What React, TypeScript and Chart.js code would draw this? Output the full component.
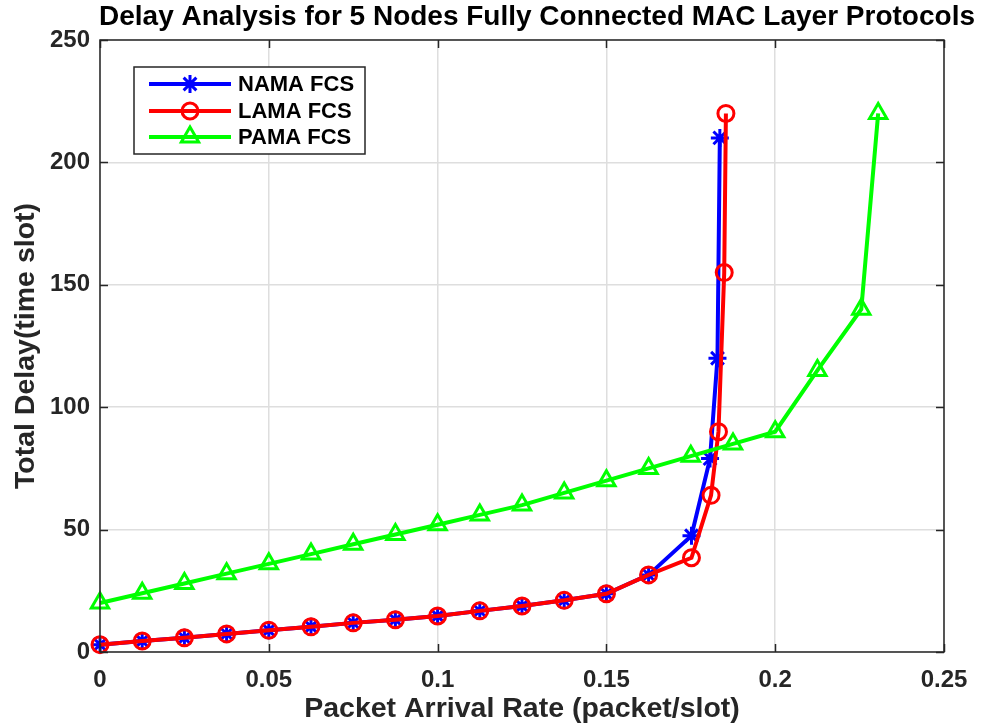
import React, { useEffect, useRef } from 'react';
import { Chart, registerables } from 'chart.js';

Chart.register(...registerables);

const chartTitle = 'Delay Analysis for 5 Nodes Fully Connected MAC Layer Protocols';
const xAxisTitle = 'Packet Arrival Rate (packet/slot)';
const yAxisTitle = 'Total Delay(time slot)';
const seriesNames = ['NAMA FCS', 'LAMA FCS', 'PAMA FCS'];

const xTickLabels = ['0', '0.05', '0.1', '0.15', '0.2', '0.25'];
const yTickLabels = ['0', '50', '100', '150', '200', '250'];

const namaRate = [0, 0.0125, 0.025, 0.0375, 0.05, 0.0625, 0.075, 0.0875, 0.1, 0.1125, 0.125, 0.1375, 0.15, 0.1625, 0.1752, 0.1807, 0.1829, 0.1836];
const namaDelay = [3, 4.5, 5.8, 7.4, 8.9, 10.3, 11.9, 13.2, 14.7, 16.8, 18.8, 21.1, 23.8, 31.5, 47.5, 79, 120, 210];

const lamaRate = [0, 0.0125, 0.025, 0.0375, 0.05, 0.0625, 0.075, 0.0875, 0.1, 0.1125, 0.125, 0.1375, 0.15, 0.1625, 0.1752, 0.181, 0.1832, 0.1849, 0.1854];
const lamaDelay = [3, 4.5, 5.8, 7.4, 8.9, 10.3, 11.9, 13.2, 14.7, 16.8, 18.8, 21.1, 23.8, 31.5, 38.5, 64, 90, 155, 220];

const pamaRate = [0, 0.0125, 0.025, 0.0375, 0.05, 0.0625, 0.075, 0.0875, 0.1, 0.1125, 0.125, 0.1375, 0.15, 0.1625, 0.175, 0.1875, 0.2, 0.2125, 0.2255, 0.2305];
const pamaDelay = [20, 24, 28, 32, 36, 40, 44, 48, 52, 56, 60, 65, 70, 75, 80, 85, 90, 115, 140, 220];

const toPoints = (xs: number[], ys: number[]) => xs.map((x, i) => ({ x, y: ys[i] }));

const AXIS_COLOR = '#262626';
const FONT = 'Liberation Sans, Arial, Helvetica, sans-serif';

function drawMarker(ctx: CanvasRenderingContext2D, style: string, r: number, x: number, y: number) {
  ctx.beginPath();
  if (style === 'circle') {
    ctx.arc(x, y, r, 0, Math.PI * 2);
  } else if (style === 'triangle') {
    for (let k = 0; k < 3; k++) {
      const a = (k * 2 * Math.PI) / 3;
      const px = x + Math.sin(a) * r;
      const py = y - Math.cos(a) * r;
      if (k === 0) ctx.moveTo(px, py);
      else ctx.lineTo(px, py);
    }
    ctx.closePath();
  } else if (style === 'star') {
    for (let k = 0; k < 4; k++) {
      const a = (k * Math.PI) / 4;
      ctx.moveTo(x - Math.cos(a) * r, y - Math.sin(a) * r);
      ctx.lineTo(x + Math.cos(a) * r, y + Math.sin(a) * r);
    }
  }
  ctx.stroke();
}

const boxPlugin = {
  id: 'matlabBox',
  afterDatasetsDraw(chart: any) {
    const { ctx, chartArea } = chart;
    const { left, right, top, bottom } = chartArea;
    const xs = chart.scales.x;
    const ys = chart.scales.y;
    ctx.save();
    ctx.strokeStyle = AXIS_COLOR;
    ctx.lineWidth = 1.5;
    ctx.beginPath();
    const tl = 8;
    xs.ticks.forEach((t: any) => {
      const px = Math.round(xs.getPixelForValue(t.value)) + 0.5;
      ctx.moveTo(px, bottom);
      ctx.lineTo(px, bottom - tl);
      ctx.moveTo(px, top);
      ctx.lineTo(px, top + tl);
    });
    ys.ticks.forEach((t: any) => {
      const py = Math.round(ys.getPixelForValue(t.value)) + 0.5;
      ctx.moveTo(left, py);
      ctx.lineTo(left + tl, py);
      ctx.moveTo(right, py);
      ctx.lineTo(right - tl, py);
    });
    ctx.stroke();
    ctx.strokeRect(left, top, right - left, bottom - top);
    ctx.restore();
  },
};

const legendPlugin = {
  id: 'insideLegend',
  afterDraw(chart: any) {
    const { ctx } = chart;
    const bx = 134, by = 67, bw = 231, bh = 87;
    ctx.save();
    ctx.fillStyle = '#ffffff';
    ctx.fillRect(bx, by, bw, bh);
    ctx.strokeStyle = AXIS_COLOR;
    ctx.lineWidth = 1.5;
    ctx.strokeRect(bx, by, bw, bh);
    const rows = [84, 111, 137];
    chart.data.datasets.forEach((ds: any, i: number) => {
      const y = rows[i];
      ctx.strokeStyle = ds.borderColor;
      ctx.lineWidth = ds.borderWidth;
      ctx.beginPath();
      ctx.moveTo(149, y);
      ctx.lineTo(231, y);
      ctx.stroke();
      ctx.lineWidth = ds.pointBorderWidth;
      drawMarker(ctx, ds.pointStyle, ds.pointRadius, 190, y);
      ctx.fillStyle = '#000000';
      ctx.font = `bold 22px ${FONT}`;
      ctx.textBaseline = 'middle';
      ctx.textAlign = 'left';
      ctx.fillText(ds.label, 238, y + 1);
    });
    ctx.restore();
  },
};

export default function App() {
  const canvasRef = useRef<HTMLCanvasElement | null>(null);

  useEffect(() => {
    if (!canvasRef.current) return;
    const common = {
      showLine: true,
      borderWidth: 4,
      pointBorderWidth: 3,
      pointBackgroundColor: 'rgba(0,0,0,0)',
      clip: false,
    };
    const chart = new Chart(canvasRef.current, {
      type: 'scatter',
      data: {
        datasets: [
          {
            ...common,
            label: seriesNames[0],
            data: toPoints(namaRate, namaDelay),
            borderColor: '#0000ff',
            backgroundColor: '#0000ff',
            pointStyle: 'star',
            pointRadius: 9,
            order: 3,
          },
          {
            ...common,
            label: seriesNames[1],
            data: toPoints(lamaRate, lamaDelay),
            borderColor: '#ff0000',
            backgroundColor: '#ff0000',
            pointStyle: 'circle',
            pointRadius: 8,
            order: 2,
          },
          {
            ...common,
            label: seriesNames[2],
            data: toPoints(pamaRate, pamaDelay),
            borderColor: '#00ff00',
            backgroundColor: '#00ff00',
            pointStyle: 'triangle',
            pointRadius: 10,
            order: 1,
          },
        ] as any,
      },
      options: {
        animation: false,
        responsive: false,
        devicePixelRatio: 1,
        layout: { padding: { left: 0, right: 7, top: 0, bottom: 0 } },
        plugins: {
          legend: { display: false },
          tooltip: { enabled: false },
          title: {
            display: true,
            text: chartTitle,
            align: 'end',
            color: '#000000',
            font: { family: FONT, size: 28, weight: 'bold', lineHeight: 1.2 },
            padding: { top: 0, bottom: 6.4 },
          },
        },
        scales: {
          x: {
            type: 'linear',
            min: 0,
            max: 0.25,
            ticks: {
              stepSize: 0.05,
              color: AXIS_COLOR,
              font: { family: FONT, size: 24, weight: 'bold' },
              padding: 14,
              callback: (_v: any, i: number) => xTickLabels[i],
              maxRotation: 0,
            },
            grid: { color: '#dedede', lineWidth: 1.5, drawTicks: false },
            border: { display: false },
            title: {
              display: true,
              text: xAxisTitle,
              color: AXIS_COLOR,
              font: { family: FONT, size: 28.5, weight: 'bold', lineHeight: 1.2 },
              padding: { top: 0, bottom: 2 },
            },
            afterFit: (s: any) => {
              s.height = 76;
            },
          },
          y: {
            type: 'linear',
            min: 0,
            max: 250,
            ticks: {
              stepSize: 50,
              color: AXIS_COLOR,
              font: { family: FONT, size: 24, weight: 'bold' },
              padding: 10,
              callback: (_v: any, i: number) => yTickLabels[i],
            },
            grid: { color: '#dedede', lineWidth: 1.5, drawTicks: false },
            border: { display: false },
            title: {
              display: true,
              text: yAxisTitle,
              color: AXIS_COLOR,
              font: { family: FONT, size: 28.5, weight: 'bold', lineHeight: 1.2 },
              padding: { top: 9, bottom: 0 },
            },
            afterFit: (s: any) => {
              s.width = 100;
            },
          },
          y2: {
            type: 'linear',
            position: 'right',
            display: true,
            ticks: { display: false },
            grid: { display: false, drawTicks: false },
            border: { display: false },
            afterFit: (s: any) => {
              s.width = 31;
            },
          },
        },
      } as any,
      plugins: [boxPlugin, legendPlugin],
    });
    return () => chart.destroy();
  }, []);

  return (
    <div style={{ position: 'absolute', left: 0, top: 0, width: 982, height: 728, background: '#ffffff' }}>
      <canvas ref={canvasRef} width={982} height={728} />
    </div>
  );
}
